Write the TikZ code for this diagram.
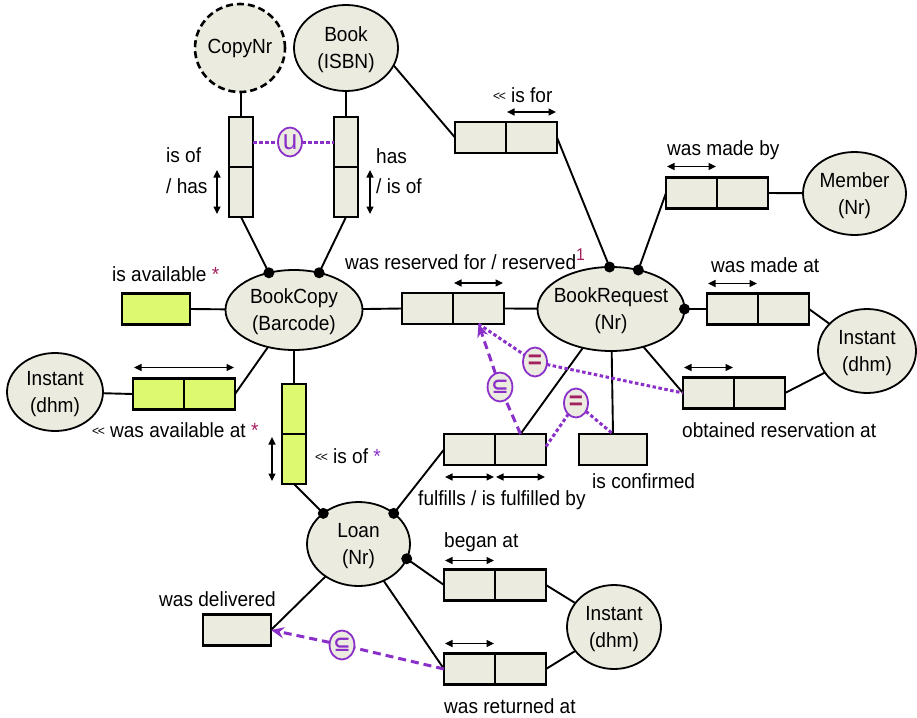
\documentclass[tikz,border=0pt]{standalone}
\usepackage{fontspec}
\setmainfont[FakeStretch=0.93]{Liberation Sans}
\newfontfamily\symfont{DejaVu Sans}
\usetikzlibrary{shapes.geometric,arrows.meta,calc}

\definecolor{ormfill}{HTML}{EBEBDF}
\definecolor{ormgreen}{HTML}{DCF970}
\definecolor{cpurple}{HTML}{8B2FC9}
\definecolor{cmag}{HTML}{A3215F}

% small double chevron in front of reverse readings
\newcommand{\ltlt}{\raisebox{1.5pt}{\fontsize{13}{13}\selectfont<\kern-1.5pt<}}

\tikzset{
  every node/.style={font=\fontsize{20.5}{27}\selectfont},
  entity/.style={ellipse, draw, line width=1.8pt, fill=ormfill, inner sep=0pt, outer sep=0pt},
  etext/.style={align=center, inner sep=0pt, yshift=-2pt},
  cell/.style={draw, line width=2.1pt, fill=ormfill, minimum width=51, minimum height=31, inner sep=0pt, outer sep=0pt},
  vcell/.style={cell, minimum width=24, minimum height=50},
  ucell/.style={cell, minimum width=68},
  green/.style={fill=ormgreen},
  link/.style={draw, line width=1.9pt},
  mandot/.style={fill=black},
  span/.style={{Triangle[length=7.5pt,width=7pt]}-{Triangle[length=7.5pt,width=7pt]}, line width=1.2pt},
  lbl/.style={inner sep=0pt, anchor=base west},
  cons/.style={ellipse, draw=cpurple, line width=1.8pt, fill=ormfill, minimum width=24, minimum height=29, inner sep=0pt, outer sep=0pt},
  cdot/.style={draw=cpurple, line width=3pt, dash pattern=on 3.5pt off 2.5pt},
  cdash/.style={draw=cpurple, line width=3pt, dash pattern=on 8pt off 5pt},
  subtip/.style={-{Stealth[length=13pt,width=11pt]}},
}

\begin{document}
\begin{tikzpicture}[x=1pt,y=-1pt]
\useasboundingbox (0,0) rectangle (917,717);

% ---- entity types ----
\node[entity, dashed, dash pattern=on 7pt off 4pt, line width=2.6pt, minimum width=90, minimum height=88] (CopyNr) at (240,48) {};
\node[etext, yshift=2pt] (CopyNrT) at (CopyNr) {CopyNr};
\node[entity, minimum width=104, minimum height=86] (Book) at (346,48) {};
\node[etext] (BookT) at (Book) {Book\\(ISBN)};
\node[entity, minimum width=103, minimum height=83] (Member) at (854.5,193.5) {};
\node[etext] (MemberT) at (Member) {Member\\(Nr)};
\node[entity, minimum width=137, minimum height=80] (BookCopy) at (294,310) {};
\node[etext] (BookCopyT) at (BookCopy) {BookCopy\\(Barcode)};
\node[entity, minimum width=147, minimum height=84] (BookRequest) at (611,309) {};
\node[etext] (BookRequestT) at (BookRequest) {BookRequest\\(Nr)};
\node[entity, minimum width=98, minimum height=84] (InstantR) at (867,351) {};
\node[etext] (InstantRT) at (InstantR) {Instant\\(dhm)};
\node[entity, minimum width=96, minimum height=78] (InstantL) at (55,392) {};
\node[etext] (InstantLT) at (InstantL) {Instant\\(dhm)};
\node[entity, minimum width=103, minimum height=84] (Loan) at (358.5,544) {};
\node[etext] (LoanT) at (Loan) {Loan\\(Nr)};
\node[entity, minimum width=94, minimum height=84] (InstantB) at (614,627) {};
\node[etext] (InstantBT) at (InstantB) {Instant\\(dhm)};

% ---- fact types (role boxes) ----
\node[vcell] (copyA) at (241,142) {};
\node[vcell, anchor=north] (copyB) at (copyA.south) {};
\node[vcell] (bookA) at (346,142) {};
\node[vcell, anchor=north] (bookB) at (bookA.south) {};
\node[cell] (isforA) at (480.5,137.5) {};
\node[cell, anchor=west] (isforB) at (isforA.east) {};
\node[cell] (madebyA) at (691.5,193) {};
\node[cell, anchor=west] (madebyB) at (madebyA.east) {};
\node[cell] (madeatA) at (732.5,309) {};
\node[cell, anchor=west] (madeatB) at (madeatA.east) {};
\node[cell] (obtA) at (708.5,393) {};
\node[cell, anchor=west] (obtB) at (obtA.east) {};
\node[cell] (resA) at (427.5,308.5) {};
\node[cell, anchor=west] (resB) at (resA.east) {};
\node[ucell, green] (avail) at (156,309) {};
\node[cell, green] (wasavA) at (158.5,394) {};
\node[cell, green, anchor=west] (wasavB) at (wasavA.east) {};
\node[vcell, green] (isofA) at (294,409) {};
\node[vcell, green, anchor=north] (isofB) at (isofA.south) {};
\node[cell] (fulA) at (469.5,449.5) {};
\node[cell, anchor=west] (fulB) at (fulA.east) {};
\node[ucell] (conf) at (613,449.5) {};
\node[cell] (beganA) at (469.5,585) {};
\node[cell, anchor=west] (beganB) at (beganA.east) {};
\node[cell] (retA) at (469.5,669) {};
\node[cell, anchor=west] (retB) at (retA.east) {};
\node[ucell] (deliv) at (237,630) {};

% ---- connectors ----
\draw[link] (copyA.north) -- (copyA.north |- CopyNr.south);
\draw[link] (bookA.north) -- (bookA.north |- Book.south);
\draw[link] (copyB.south) -- (BookCopy.124);
\draw[link] (bookB.south) -- (BookCopy.56);
\draw[link] (Book.-20) -- (isforA.west);
\draw[link] (isforB.east) -- (BookRequest.92);
\draw[link] (madebyA.west) -- (BookRequest.55);
\draw[link] (madebyB.east) -- (Member);
\draw[link] (madeatA.west) -- (BookRequest.east);
\draw[link] (madeatB.east) -- (InstantR);
\draw[link] (obtB.east) -- (InstantR);
\draw[link] (obtA.west) -- (BookRequest);
\draw[link] (conf.north) -- (BookRequest);
\draw[link] (fulB.north) -- (BookRequest);
\draw[link] (BookCopy) -- (resA.west);
\draw[link] (resB.east) -- (BookRequest);
\draw[link] (avail.east) -- (BookCopy);
\draw[link] (wasavA.west) -- (InstantL);
\draw[link] (wasavB.east) -- (BookCopy);
\draw[link] (isofA.north) -- (isofA.north |- BookCopy.south);
\draw[link] (isofB.south) -- (Loan.139);
\draw[link] (fulA.west) -- (Loan.41);
\draw[link] (beganA.west) -- (Loan.-17);
\draw[link] (beganB.east) -- (InstantB);
\draw[link] (retB.east) -- (InstantB);
\draw[link] (retA.west) -- (Loan);
\draw[link] (deliv.east) -- (Loan);

% ---- mandatory role dots ----
\foreach \p in {BookCopy.124, BookCopy.56, BookRequest.92, BookRequest.55,
                BookRequest.east, Loan.139, Loan.41, Loan.-17}
  \fill[mandot] (\p) circle (5.5pt);

% ---- uniqueness spans ----
\draw[span] ([xshift=-12pt,yshift=-3pt]copyB.north west) -- ([xshift=-12pt,yshift=3pt]copyB.south west);
\draw[span] ([xshift=12pt,yshift=-3pt]bookB.north east) -- ([xshift=12pt,yshift=3pt]bookB.south east);
\draw[span] ([xshift=1pt,yshift=10pt]isforB.north west) -- ([xshift=-1pt,yshift=10pt]isforB.north east);
\draw[span] ([xshift=1pt,yshift=11pt]madebyA.north west) -- ([xshift=-1pt,yshift=11pt]madebyA.north east);
\draw[span] ([xshift=1pt,yshift=10pt]madeatA.north west) -- ([xshift=-1pt,yshift=10pt]madeatA.north east);
\draw[span] ([xshift=1pt,yshift=10pt]obtA.north west) -- ([xshift=-1pt,yshift=10pt]obtA.north east);
\draw[span] ([xshift=1pt,yshift=10pt]resB.north west) -- ([xshift=-1pt,yshift=10pt]resB.north east);
\draw[span] ([xshift=1pt,yshift=11pt]wasavA.north west) -- ([xshift=-1pt,yshift=11pt]wasavB.north east);
\draw[span] ([xshift=-10pt,yshift=-3pt]isofB.north west) -- ([xshift=-10pt,yshift=3pt]isofB.south west);
\draw[span] ([xshift=1pt,yshift=-12pt]fulA.south west) -- ([xshift=-1pt,yshift=-12pt]fulA.south east);
\draw[span] ([xshift=1pt,yshift=-12pt]fulB.south west) -- ([xshift=-1pt,yshift=-12pt]fulB.south east);
\draw[span] ([xshift=1pt,yshift=9pt]beganA.north west) -- ([xshift=-1pt,yshift=9pt]beganA.north east);
\draw[span] ([xshift=1pt,yshift=10pt]retA.north west) -- ([xshift=-1pt,yshift=10pt]retA.north east);

% ---- constraints ----
\node[cons] (cU) at (290,142) {\color{cpurple}\fontsize{28}{28}\selectfont u};
\node[cons] (cEq1) at (535,362) {\color{cmag}\fontsize{26}{26}\selectfont\bfseries =};
\node[cons] (cSub1) at (500,387) {\color{cpurple}\symfont\fontsize{21}{21}\selectfont\bfseries ⊆};
\node[cons] (cEq2) at (576,403) {\color{cmag}\fontsize{26}{26}\selectfont\bfseries =};
\node[cons] (cSub2) at (342,645) {\color{cpurple}\symfont\fontsize{21}{21}\selectfont\bfseries ⊆};

\draw[cdot] (copyA.east) -- (cU);
\draw[cdot] (cU) -- (bookA.west);
\draw[cdot] (resB.south) -- (cEq1);
\draw[cdot] (cEq1) -- (obtA.west);
\draw[cdash] (fulB.north) -- (cSub1);
\draw[cdash,subtip] (cSub1) -- (resB.south);
\draw[cdot] ([yshift=3pt]fulB.east) -- (cEq2);
\draw[cdot] (cEq2) -- (conf.north);
\draw[cdash] (retA.west) -- (cSub2);
\draw[cdash,subtip] (cSub2) -- (deliv.east);

% ---- fact type readings ----
\node[lbl] (tIsOf1) at (166,162) {is of};
\node[lbl] (tIsOf2) at (166,193) {/ has};
\node[lbl] (tHas1) at (376,163) {has};
\node[lbl] (tHas2) at (376,193) {/ is of};
\node[lbl] (tIsFor) at (493,102) {\ltlt\ is for};
\node[lbl] (tMadeBy) at (667,155) {was made by};
\node[lbl] (tMadeAt) at (711,272) {was made at};
\node[lbl] (tObt) at (682,437) {obtained reservation at};
\node[lbl] (tRes) at (345,269) {was reserved for / reserved\textcolor{cmag}{\raisebox{9pt}{\fontsize{17}{17}\selectfont 1}}};
\node[lbl] (tAvail) at (112,281) {is available \textcolor{cmag}{*}};
\node[lbl] (tWasAv) at (92,437) {\ltlt\ was available at \textcolor{cmag}{*}};
\node[lbl] (tIsOfG) at (315,463) {\ltlt\ is of \textcolor{cpurple}{*}};
\node[lbl] (tFul) at (418,505) {fulfills / is fulfilled by};
\node[lbl] (tConf) at (592,488) {is confirmed};
\node[lbl] (tBegan) at (444,547) {began at};
\node[lbl] (tDeliv) at (159,606) {was delivered};
\node[lbl] (tRet) at (444,713) {was returned at};
\end{tikzpicture}
\end{document}
